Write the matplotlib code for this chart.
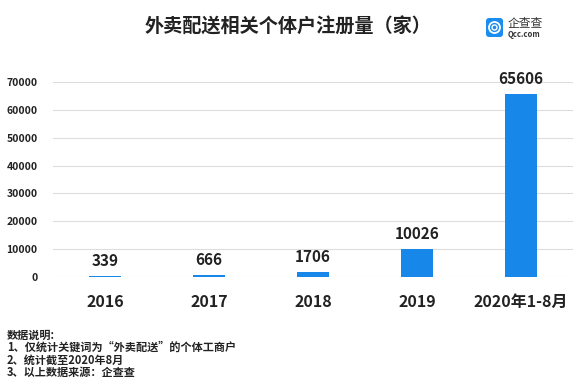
import matplotlib
matplotlib.use("Agg")
import matplotlib.pyplot as plt
from matplotlib.patches import FancyBboxPatch, Circle

plt.rcParams['font.family'] = ['Noto Sans CJK SC', 'DejaVu Sans']

categories = ["2016", "2017", "2018", "2019", "2020年1-8月"]
values = [339, 666, 1706, 10026, 65606]
yticks = [0, 10000, 20000, 30000, 40000, 50000, 60000, 70000]
title = "外卖配送相关个体户注册量（家）"
notes = ["数据说明:", "1、仅统计关键词为“外卖配送”的个体工商户", "2、统计截至2020年8月", "3、以上数据来源：企查查"]

W, H = 580, 385
fig = plt.figure(figsize=(W/100, H/100), dpi=100)
ax = fig.add_axes([53/W, 1-277/H, (573-53)/W, (277-82)/H])

bar_color = "#1787ea"
x = list(range(len(categories)))
ax.bar(x, values, width=0.31, color=bar_color, zorder=3)
for xi, v in zip(x, values):
    ax.annotate(str(v), (xi, v), xytext=(0, 5), textcoords="offset points",
                ha="center", va="bottom", fontsize=11, fontweight="bold",
                color="#222222", clip_on=False)

ax.set_xlim(-0.5, 4.5)
ax.set_ylim(0, 70000)
ax.set_yticks(yticks)
ax.set_yticklabels([str(t) for t in yticks], fontsize=7.5, fontweight="bold", color="#222222")
ax.set_xticks(x)
ax.set_xticklabels(categories, fontsize=11.5, fontweight="bold", color="#222222")
ax.tick_params(axis="both", length=0)
ax.tick_params(axis="y", pad=11)
ax.tick_params(axis="x", pad=12)
ax.grid(axis="y", color="#dddddd", linewidth=0.8, zorder=0)
for s in ax.spines.values():
    s.set_visible(False)

fig.text(288/W, 1-27/H, title, ha="center", va="center", fontsize=13.8, fontweight="bold", color="#222222")

# logo
logo_ax = fig.add_axes([0, 0, 1, 1], facecolor="none")
logo_ax.set_xlim(0, W)
logo_ax.set_ylim(H, 0)
logo_ax.axis("off")
logo_ax.add_patch(FancyBboxPatch((486, 18), 17, 19, boxstyle="round,pad=0,rounding_size=3",
                                 facecolor="#1b8cf0", edgecolor="none"))
logo_ax.add_patch(Circle((494.5, 27.5), 5.5, facecolor="none", edgecolor="white", linewidth=1.3))
logo_ax.add_patch(Circle((494.5, 27.5), 2.5, facecolor="none", edgecolor="white", linewidth=1.0))
logo_ax.text(508, 24, "企查查", fontsize=8.5, color="#333333", va="center", ha="left")
logo_ax.text(508, 34.5, "Qcc.com", fontsize=5.5, color="#333333", va="center", ha="left", fontweight="bold")

note_y = [335, 347.5, 360, 372.5]
for yy, line in zip(note_y, notes):
    fig.text(7/W, 1-yy/H, line, ha="left", va="center", fontsize=8, fontweight="bold", color="#222222")

fig.savefig("out.png", dpi=100, facecolor="white")
